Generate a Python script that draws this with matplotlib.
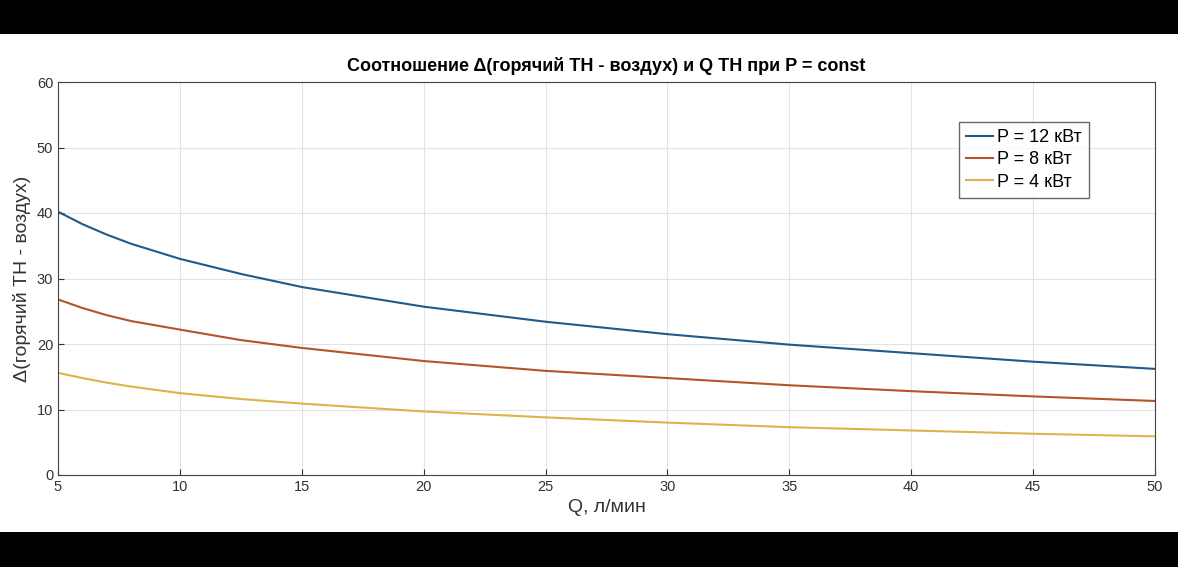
import matplotlib
matplotlib.use("Agg")
import matplotlib.pyplot as plt
from matplotlib.patches import Rectangle

plt.rcParams['font.family'] = ['Liberation Sans', 'DejaVu Sans']

q = [5, 6, 7, 8, 10, 12.5, 15, 20, 25, 30, 35, 40, 45, 50]
p12 = [40.2, 38.3, 36.7, 35.3, 33.0, 30.7, 28.7, 25.7, 23.4, 21.5, 19.9, 18.6, 17.3, 16.2]
p8 = [26.8, 25.5, 24.4, 23.5, 22.2, 20.6, 19.4, 17.4, 15.9, 14.8, 13.7, 12.8, 12.0, 11.3]
p4 = [15.6, 14.8, 14.1, 13.5, 12.5, 11.6, 10.9, 9.7, 8.8, 8.0, 7.3, 6.8, 6.3, 5.9]
labels = ["P = 12 кВт", "P = 8 кВт", "P = 4 кВт"]
colors = ["#1f5a8a", "#b5532a", "#dcb44a"]

fig = plt.figure(figsize=(11.78, 5.67), dpi=100, facecolor="black")
fig.patches.append(Rectangle((0, 35/567), 1, 1 - 69/567, transform=fig.transFigure,
                             facecolor="white", zorder=-10))
ax = fig.add_axes([58/1178, 1 - 475/567, (1155-58)/1178, (475-82)/567])
for y, lab, c in zip([p12, p8, p4], labels, colors):
    ax.plot(q, y, color=c, lw=1.5, label=lab)
ax.set_xlim(5, 50)
ax.set_ylim(0, 60)
ax.set_xticks(range(5, 51, 5))
ax.set_yticks(range(0, 61, 10))
ax.grid(True, color="#e3e3e3", lw=0.8)
ax.tick_params(labelsize=10.5, direction="in", length=4, colors="#333333")
for s in ax.spines.values():
    s.set_color("#444444")
ax.set_xlabel("Q, л/мин", fontsize=14, color="#333333")
ax.set_ylabel("Δ(горячий ТН - воздух)", fontsize=14, color="#333333")
ax.set_title("Соотношение Δ(горячий ТН - воздух) и Q ТН при P = const",
             fontsize=13, fontweight="bold", pad=8)
leg = ax.legend(loc="upper right", bbox_to_anchor=(0.948, 0.922), fontsize=13,
                fancybox=False, edgecolor="#444444", handlelength=1.5,
                handletextpad=0.2, borderpad=0.4, labelspacing=0.3)
fig.savefig("out.png", dpi=100, facecolor=fig.get_facecolor())
